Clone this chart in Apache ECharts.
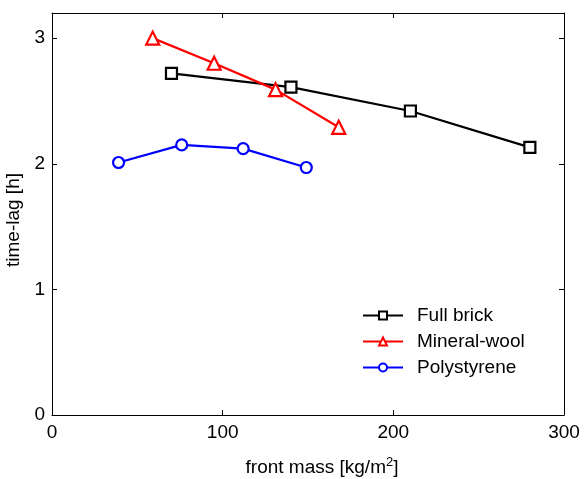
<!DOCTYPE html>
<html>
<head>
<meta charset="utf-8">
<script src="https://cdn.jsdelivr.net/npm/echarts@6/dist/echarts.min.js"></script>
<style>html,body{margin:0;padding:0;background:#fff}#c{width:584px;height:479px}</style>
</head>
<body>
<div id="c"></div>
<script>
const xTicks = [0, 100, 200, 300];
const yTicks = [0, 1, 2, 3];
const fullBrickX = [70, 140, 210, 280];
const fullBrickY = [2.72, 2.61, 2.42, 2.13];
const mineralWoolX = [59, 95, 131, 168];
const mineralWoolY = [3.0, 2.80, 2.59, 2.29];
const polystyreneX = [39, 76, 112, 149];
const polystyreneY = [2.01, 2.15, 2.12, 1.97];
const seriesNames = ['Full brick', 'Mineral-wool', 'Polystyrene'];

const FONT = 'Liberation Sans, Arial, sans-serif';
const pairs = (xs, ys) => xs.map((x, i) => [x, ys[i]]);

const chart = echarts.init(document.getElementById('c'), null, {renderer: 'canvas'});
const axisCommon = {
  axisLine: {show: true, onZero: false, lineStyle: {color: '#000', width: 1}},
  axisTick: {show: true, inside: true, length: 5, lineStyle: {color: '#000'}},
  splitLine: {show: false}
};
const mk = (name, xs, ys, color, symbol, size) => ({
  name, type: 'line', data: pairs(xs, ys),
  symbol, symbolSize: size,
  lineStyle: {color, width: 2.2},
  itemStyle: {color: '#fff', borderColor: color, borderWidth: 2.2},
  color,
  emphasis: {disabled: true},
  animation: false
});
chart.setOption({
  animation: false,
  grid: {left: 52, right: 20, top: 13, bottom: 64, containLabel: false, outerBoundsMode: 'none'},
  legend: {
    orient: 'vertical', left: 357, top: 301, itemGap: 7,
    itemWidth: 40, itemHeight: 10,
    data: seriesNames,
    textStyle: {fontFamily: FONT, fontSize: 19, color: '#000', padding: [0, 0, 0, 9]}
  },
  xAxis: [
    Object.assign({}, axisCommon, {
      type: 'value', min: xTicks[0], max: xTicks[xTicks.length - 1], interval: 100,
      name: 'front mass [kg/m{sup|2}]', nameLocation: 'middle', nameGap: 41,
      nameTextStyle: {fontFamily: FONT, fontSize: 19, color: '#000', padding: [0, 0, 0, 28],
        rich: {sup: {fontFamily: FONT, fontSize: 13, verticalAlign: 'top', padding: [0, 0, 10, 0], color: '#000'}}},
      axisLabel: {fontFamily: FONT, fontSize: 19, color: '#000', margin: 8}
    }),
    Object.assign({}, axisCommon, {
      type: 'value', position: 'top', min: 0, max: 300, interval: 100,
      axisLabel: {show: false}
    })
  ],
  yAxis: [
    Object.assign({}, axisCommon, {
      type: 'value', min: yTicks[0], max: 3.2, interval: 1,
      name: 'time-lag [h]', nameLocation: 'middle', nameGap: 24, nameRotate: 90,
      nameTextStyle: {fontFamily: FONT, fontSize: 19, color: '#000', padding: [0, 12, 0, 0]},
      axisLabel: {fontFamily: FONT, fontSize: 19, color: '#000', margin: 7, showMaxLabel: false,
        formatter: v => (yTicks.indexOf(v) >= 0 ? String(v) : '')}
    }),
    Object.assign({}, axisCommon, {
      type: 'value', position: 'right', min: 0, max: 3.2, interval: 1,
      axisLabel: {show: false}
    })
  ],
  series: [
    mk(seriesNames[0], fullBrickX, fullBrickY, '#000000', 'rect', 11),
    mk(seriesNames[1], mineralWoolX, mineralWoolY, '#ff0000', 'triangle', 13),
    mk(seriesNames[2], polystyreneX, polystyreneY, '#0000ff', 'circle', 11)
  ]
});
</script>
</body>
</html>
